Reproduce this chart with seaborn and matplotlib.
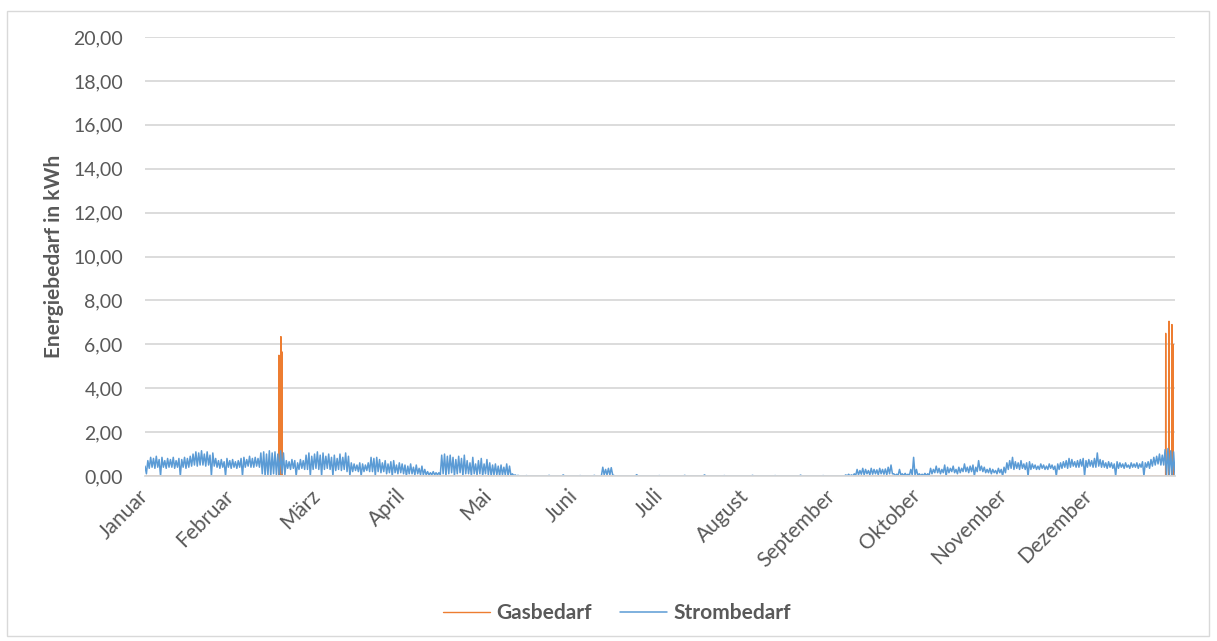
import numpy as np
import pandas as pd
import matplotlib
matplotlib.use("Agg")
import matplotlib.pyplot as plt
import seaborn as sns
from matplotlib.patches import Rectangle

# Monatsbeschriftung der x-Achse
months = ["Januar", "Februar", "März", "April", "Mai", "Juni", "Juli",
          "August", "September", "Oktober", "November", "Dezember"]
y_ticks = [0, 2, 4, 6, 8, 10, 12, 14, 16, 18, 20]

# Strombedarf in kWh: Tageshöchstwert je Tag des Jahres
strom_peaks = [
    0.45, 0.70, 0.85, 0.80, 0.90, 0.75, 0.85, 0.70, 0.80, 0.75,
    0.85, 0.70, 0.80, 0.75, 0.85, 0.80, 0.90, 1.00, 1.10, 1.05,
    1.15, 1.00, 1.10, 0.95, 1.05, 0.80, 0.70, 0.75, 0.65, 0.80,
    0.70, 0.75, 0.65, 0.70, 0.80, 0.85, 0.75, 0.90, 0.80, 0.85,
    0.80, 1.05, 1.10, 1.00, 1.15, 1.05, 1.10, 1.00, 1.15, 1.05,
    0.70, 0.65, 0.75, 0.70, 0.60, 0.75, 0.70, 0.95, 1.05, 0.90,
    1.00, 1.10, 0.95, 1.05, 0.90, 1.00, 0.85, 0.95, 0.80, 1.00,
    0.85, 1.05, 0.90, 0.60, 0.55, 0.50, 0.60, 0.55, 0.50, 0.60,
    0.85, 0.80, 0.85, 0.75, 0.60, 0.70, 0.55, 0.65, 0.70, 0.50,
    0.60, 0.55, 0.50, 0.45, 0.55, 0.40, 0.50, 0.35, 0.45, 0.30,
    0.20, 0.15, 0.20, 0.15, 0.15, 0.95, 1.00, 0.90, 0.95, 0.85,
    0.75, 0.90, 0.80, 0.95, 0.70, 0.60, 0.85, 0.55, 0.70, 0.80,
    0.55, 0.75, 0.60, 0.50, 0.55, 0.45, 0.50, 0.40, 0.55, 0.45,
    0.10, 0.05, 0.03, 0.00, 0.00, 0.02, 0.00, 0.00, 0.00, 0.00,
    0.00, 0.00, 0.00, 0.03, 0.00, 0.00, 0.00, 0.00, 0.05, 0.00,
    0.00, 0.00, 0.00, 0.00, 0.02, 0.00, 0.00, 0.00, 0.00, 0.03,
    0.00, 0.00, 0.40, 0.30, 0.35, 0.38, 0.02, 0.00, 0.00, 0.00,
    0.00, 0.00, 0.00, 0.00, 0.06, 0.00, 0.00, 0.00, 0.00, 0.00,
    0.00, 0.00, 0.02, 0.00, 0.00, 0.00, 0.00, 0.00, 0.00, 0.00,
    0.00, 0.03, 0.00, 0.00, 0.00, 0.00, 0.00, 0.00, 0.05, 0.00,
    0.00, 0.00, 0.00, 0.00, 0.00, 0.02, 0.00, 0.00, 0.00, 0.00,
    0.00, 0.00, 0.00, 0.00, 0.00, 0.03, 0.00, 0.00, 0.00, 0.00,
    0.00, 0.00, 0.00, 0.02, 0.00, 0.00, 0.00, 0.00, 0.00, 0.00,
    0.00, 0.00, 0.04, 0.00, 0.00, 0.00, 0.00, 0.00, 0.00, 0.00,
    0.02, 0.00, 0.00, 0.00, 0.00, 0.00, 0.00, 0.00, 0.05, 0.08,
    0.05, 0.10, 0.30, 0.25, 0.35, 0.30, 0.25, 0.35, 0.30, 0.28,
    0.35, 0.30, 0.32, 0.40, 0.50, 0.10, 0.08, 0.30, 0.10, 0.12,
    0.08, 0.30, 0.85, 0.30, 0.10, 0.08, 0.12, 0.10, 0.35, 0.30,
    0.45, 0.35, 0.30, 0.50, 0.40, 0.35, 0.45, 0.30, 0.40, 0.35,
    0.55, 0.40, 0.45, 0.50, 0.40, 0.70, 0.45, 0.40, 0.30, 0.35,
    0.30, 0.25, 0.35, 0.30, 0.40, 0.60, 0.70, 0.85, 0.65, 0.60,
    0.70, 0.55, 0.60, 0.65, 0.55, 0.50, 0.45, 0.55, 0.50, 0.45,
    0.55, 0.50, 0.45, 0.55, 0.60, 0.65, 0.70, 0.80, 0.75, 0.65,
    0.70, 0.75, 0.80, 0.70, 0.75, 0.70, 0.80, 1.05, 0.75, 0.70,
    0.60, 0.65, 0.60, 0.55, 0.65, 0.60, 0.55, 0.60, 0.50, 0.60,
    0.55, 0.60, 0.55, 0.65, 0.60, 0.65, 0.75, 0.85, 0.90, 1.00,
    0.95, 1.20, 1.25, 1.15, 1.10,
]

# Strombedarf in kWh: Tagestiefstwert je Tag des Jahres
strom_troughs = [
    0.10, 0.35, 0.40, 0.35, 0.40, 0.00, 0.40, 0.35, 0.40, 0.40,
    0.35, 0.40, 0.00, 0.40, 0.35, 0.40, 0.45, 0.50, 0.45, 0.50,
    0.50, 0.45, 0.50, 0.00, 0.45, 0.40, 0.35, 0.40, 0.00, 0.40,
    0.35, 0.40, 0.35, 0.40, 0.00, 0.40, 0.45, 0.40, 0.40, 0.45,
    0.40, 0.10, 0.00, 0.05, 0.00, 0.10, 0.05, 0.00, 0.10, 0.05,
    0.35, 0.30, 0.35, 0.00, 0.30, 0.35, 0.30, 0.30, 0.00, 0.30,
    0.35, 0.30, 0.00, 0.30, 0.35, 0.30, 0.00, 0.25, 0.30, 0.25,
    0.30, 0.20, 0.00, 0.20, 0.25, 0.20, 0.00, 0.20, 0.25, 0.20,
    0.20, 0.00, 0.20, 0.15, 0.20, 0.10, 0.15, 0.00, 0.15, 0.10,
    0.15, 0.10, 0.00, 0.10, 0.10, 0.05, 0.10, 0.05, 0.05, 0.05,
    0.05, 0.05, 0.05, 0.05, 0.05, 0.10, 0.00, 0.10, 0.15, 0.00,
    0.10, 0.15, 0.00, 0.10, 0.10, 0.00, 0.10, 0.05, 0.10, 0.00,
    0.10, 0.05, 0.00, 0.05, 0.05, 0.00, 0.05, 0.05, 0.00, 0.02,
    0.02, 0.00, 0.00, 0.00, 0.00, 0.00, 0.00, 0.00, 0.00, 0.00,
    0.00, 0.00, 0.00, 0.00, 0.00, 0.00, 0.00, 0.00, 0.00, 0.00,
    0.00, 0.00, 0.00, 0.00, 0.00, 0.00, 0.00, 0.00, 0.00, 0.00,
    0.00, 0.00, 0.05, 0.05, 0.05, 0.05, 0.00, 0.00, 0.00, 0.00,
    0.00, 0.00, 0.00, 0.00, 0.00, 0.00, 0.00, 0.00, 0.00, 0.00,
    0.00, 0.00, 0.00, 0.00, 0.00, 0.00, 0.00, 0.00, 0.00, 0.00,
    0.00, 0.00, 0.00, 0.00, 0.00, 0.00, 0.00, 0.00, 0.00, 0.00,
    0.00, 0.00, 0.00, 0.00, 0.00, 0.00, 0.00, 0.00, 0.00, 0.00,
    0.00, 0.00, 0.00, 0.00, 0.00, 0.00, 0.00, 0.00, 0.00, 0.00,
    0.00, 0.00, 0.00, 0.00, 0.00, 0.00, 0.00, 0.00, 0.00, 0.00,
    0.00, 0.00, 0.00, 0.00, 0.00, 0.00, 0.00, 0.00, 0.00, 0.00,
    0.00, 0.00, 0.00, 0.00, 0.00, 0.00, 0.00, 0.00, 0.00, 0.00,
    0.00, 0.02, 0.05, 0.08, 0.05, 0.10, 0.05, 0.08, 0.10, 0.05,
    0.10, 0.08, 0.05, 0.10, 0.10, 0.02, 0.02, 0.05, 0.02, 0.02,
    0.02, 0.05, 0.05, 0.02, 0.02, 0.02, 0.02, 0.02, 0.10, 0.15,
    0.15, 0.10, 0.15, 0.00, 0.15, 0.20, 0.15, 0.10, 0.15, 0.20,
    0.20, 0.15, 0.20, 0.00, 0.20, 0.25, 0.20, 0.15, 0.15, 0.10,
    0.15, 0.10, 0.15, 0.00, 0.15, 0.30, 0.35, 0.30, 0.35, 0.30,
    0.35, 0.30, 0.00, 0.30, 0.35, 0.30, 0.30, 0.35, 0.30, 0.30,
    0.35, 0.30, 0.00, 0.30, 0.35, 0.40, 0.35, 0.40, 0.45, 0.40,
    0.40, 0.45, 0.00, 0.40, 0.45, 0.40, 0.40, 0.45, 0.40, 0.40,
    0.35, 0.40, 0.35, 0.00, 0.35, 0.40, 0.35, 0.40, 0.35, 0.40,
    0.40, 0.35, 0.40, 0.00, 0.40, 0.35, 0.45, 0.50, 0.55, 0.50,
    0.50, 0.00, 0.05, 0.00, 0.02,
]

# Gasbedarf in kWh: nur einzelne Stunden mit Verbrauch, sonst 0
gas_spike_hours = [1139, 1156, 1167, 8681, 8709, 8734, 8743]
gas_spike_values = [5.50, 6.35, 5.65, 6.50, 7.05, 6.90, 6.00]

assert len(strom_peaks) == len(strom_troughs) == 365

sns.set_theme(style="white")
plt.rcParams["font.family"] = ["Lato", "DejaVu Sans"]

TEXT = "#595959"
GRID = "#D9D9D9"
ORANGE = "#ED7D31"
BLUE = "#5B9BD5"

hours_per_year = 8760
gas = np.zeros(hours_per_year)
gas[gas_spike_hours] = gas_spike_values
gas_df = pd.DataFrame({"tag": np.arange(hours_per_year) / 24.0, "kwh": gas})

# Höchst- und Tiefstwert jedes Tages abwechselnd als Linienzug
strom = np.column_stack([strom_peaks, strom_troughs]).ravel()
strom_df = pd.DataFrame({"tag": np.linspace(0, 365, strom.size), "kwh": strom})

W, H = 1217, 641
fig = plt.figure(figsize=(W / 100, H / 100), dpi=100)
ax = fig.add_axes([145 / W, 1 - 476 / H, 1030 / W, 439 / H])

sns.lineplot(data=gas_df, x="tag", y="kwh", color=ORANGE, lw=1.0,
             estimator=None, ax=ax, label="Gasbedarf")
sns.lineplot(data=strom_df, x="tag", y="kwh", color=BLUE, lw=1.1,
             estimator=None, ax=ax, label="Strombedarf")

ax.set_xlim(0, 365)
ax.set_ylim(0, 20)
ax.set_yticks(y_ticks)
ax.set_yticklabels([f"{v:.2f}".replace(".", ",") for v in y_ticks])
ax.set_xticks([i * 365 / 12 for i in range(12)])
ax.set_xticklabels(months, rotation=45, ha="right", va="center",
                   rotation_mode="anchor")
ax.tick_params(axis="y", length=0, pad=16, labelsize=14, labelcolor=TEXT)
ax.tick_params(axis="x", length=0, pad=12, labelsize=15, labelcolor=TEXT)

ax.grid(axis="y", color=GRID, lw=1.3)
ax.grid(axis="x", visible=False)
ax.set_axisbelow(True)
for side in ("left", "right", "top"):
    ax.spines[side].set_visible(False)
ax.spines["bottom"].set_color(GRID)
ax.spines["bottom"].set_linewidth(1.3)

ax.set_xlabel("")
ax.set_ylabel("Energiebedarf in kWh", fontsize=15, fontweight="bold", color=TEXT)
ax.yaxis.set_label_coords(-0.079, 0.5)

handles, labels = ax.get_legend_handles_labels()
ax.get_legend().remove()
fig.legend(handles, labels, loc="center", bbox_to_anchor=(0.507, 0.043),
           ncol=2, frameon=False, handlelength=2.25, handletextpad=0.3,
           columnspacing=1.35, labelcolor=TEXT,
           prop={"weight": "bold", "size": 15})

fig.add_artist(Rectangle((7 / W, 1 - 636 / H), 1202 / W, 625 / H,
                         transform=fig.transFigure, fill=False,
                         edgecolor=GRID, lw=1.0))

fig.savefig("out.png", dpi=100, facecolor="white")
